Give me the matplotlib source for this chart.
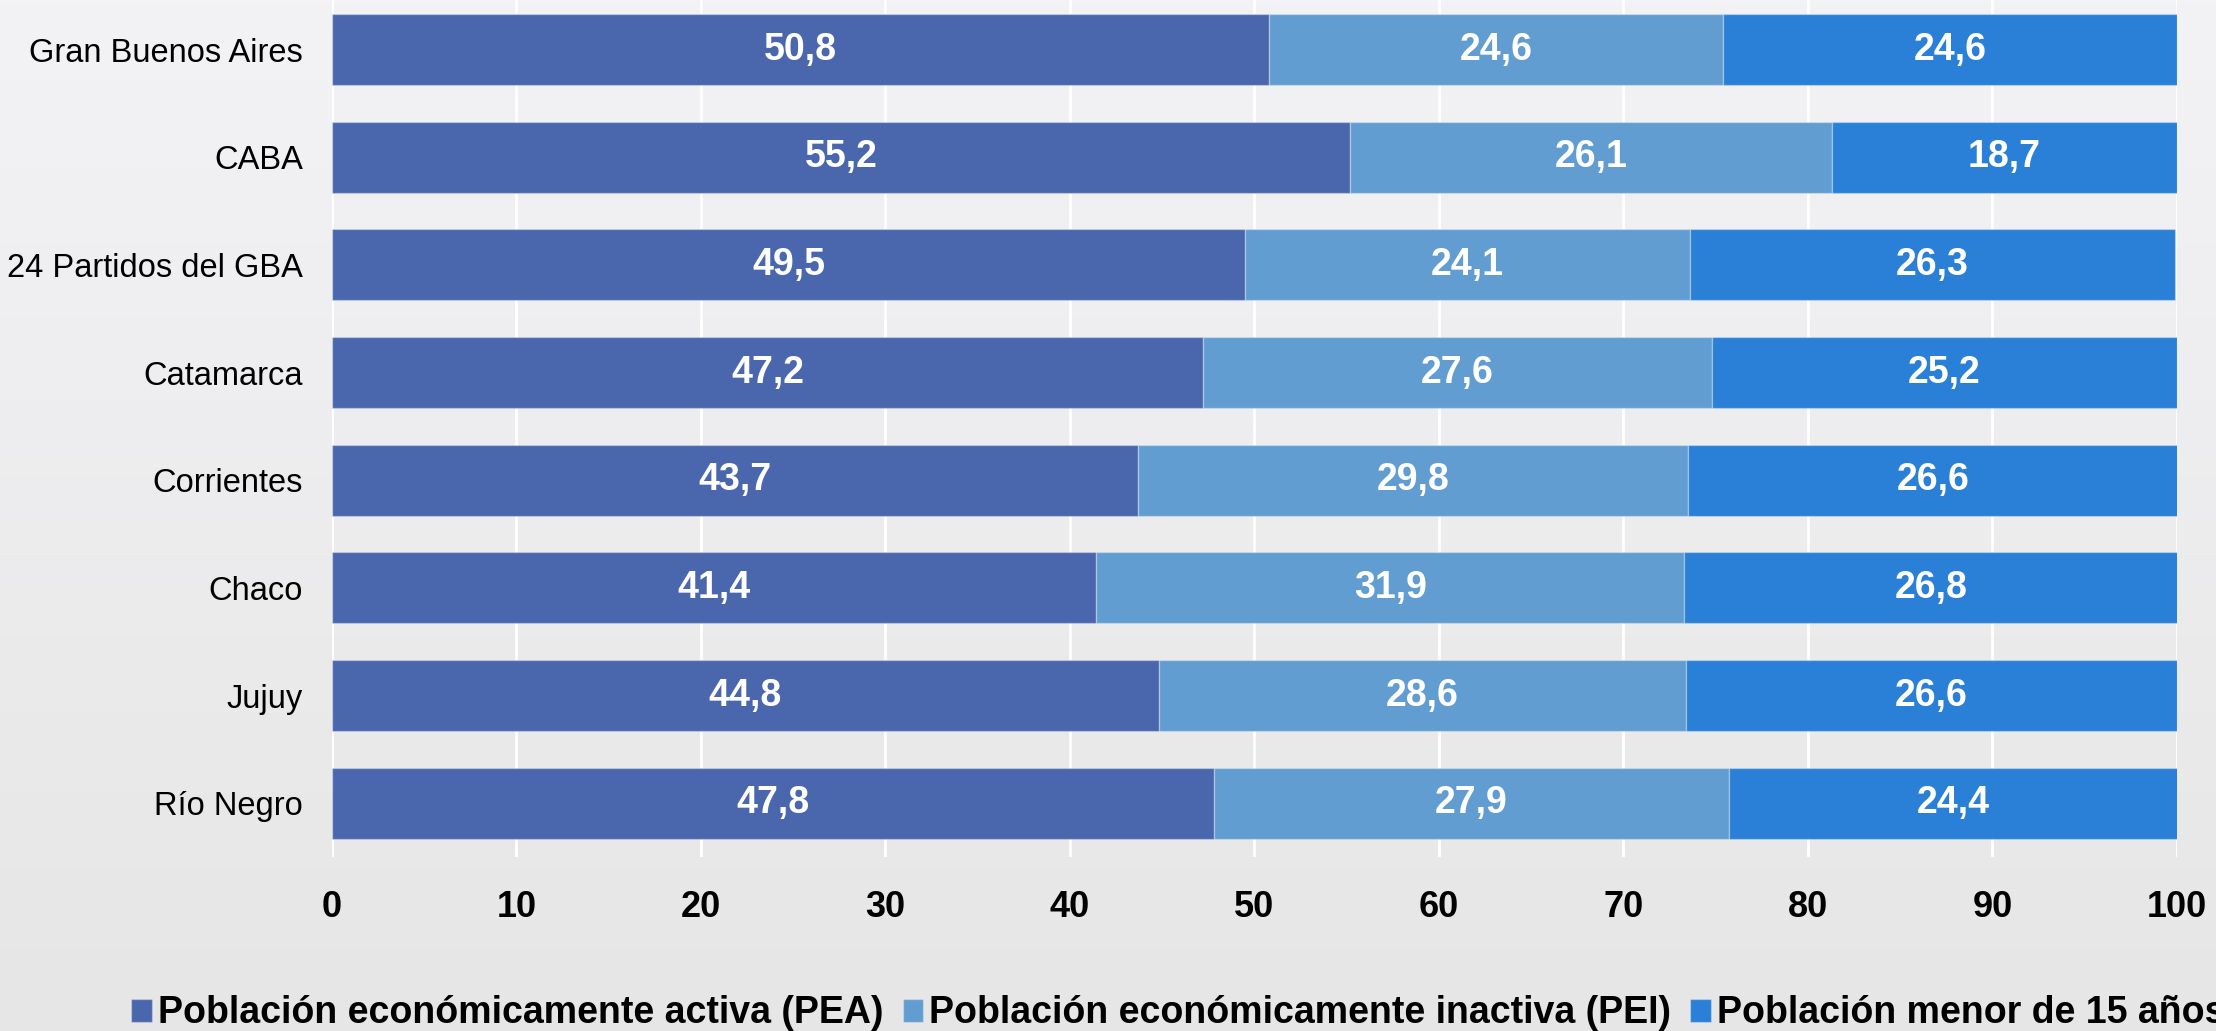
import numpy as np
import matplotlib
matplotlib.use("Agg")
import matplotlib.pyplot as plt

regions = ["Gran Buenos Aires", "CABA", "24 Partidos del GBA", "Catamarca",
           "Corrientes", "Chaco", "Jujuy", "Río Negro"]
pea = [50.8, 55.2, 49.5, 47.2, 43.7, 41.4, 44.8, 47.8]
pei = [24.6, 26.1, 24.1, 27.6, 29.8, 31.9, 28.6, 27.9]
menor15 = [24.6, 18.7, 26.3, 25.2, 26.6, 26.8, 26.6, 24.4]
series_names = ["Población económicamente activa (PEA)",
                "Población económicamente inactiva (PEI)",
                "Población menor de 15 años"]
colors = ["#4a67ad", "#629dd2", "#2a7fd6"]

plt.rcParams["font.family"] = ["Liberation Sans", "DejaVu Sans"]

fig = plt.figure(figsize=(22.16, 10.31), dpi=100)

# background gradient
bg = fig.add_axes([0, 0, 1, 1], zorder=-1)
grad = np.linspace(0, 1, 256).reshape(-1, 1)
top_c = np.array([0.953, 0.953, 0.965])
bot_c = np.array([0.902, 0.902, 0.902])
img = top_c + (bot_c - top_c) * grad[:, :, None]
bg.imshow(img, aspect="auto", extent=[0, 1, 0, 1])
bg.axis("off")

ax = fig.add_axes([0.1498, 0.1688, 0.8326, 0.8352])
ax.set_facecolor("none")

y = np.arange(len(regions))
left = np.zeros(len(regions))
for vals, c, name in zip([pea, pei, menor15], colors, series_names):
    bars = ax.barh(y, vals, left=left, height=0.66, color=c, label=name,
                   edgecolor=(1, 1, 1, 0.3), linewidth=1, zorder=2)
    for b, v in zip(bars, vals):
        ax.text(b.get_x() + b.get_width() / 2, b.get_y() + b.get_height() / 2,
                f"{v:.1f}".replace(".", ","), ha="center", va="center",
                color="white", fontsize=27, fontweight="bold", zorder=3)
    left += np.array(vals)

ax.set_xlim(0, 100)
ax.set_ylim(len(regions) - 0.5, -0.5)
ax.set_xticks(np.arange(0, 101, 10))
ax.set_yticks(y)
ax.set_yticklabels(regions, fontsize=23.5)
ax.tick_params(axis="y", length=0, pad=21)
ax.tick_params(axis="x", length=0, pad=24, labelsize=26)
for lab in ax.get_xticklabels():
    lab.set_fontweight("bold")
ax.grid(axis="x", color="white", linewidth=2, zorder=0)
ax.set_axisbelow(True)
for s in ax.spines.values():
    s.set_visible(False)

fig.legend(loc="center left", bbox_to_anchor=(0.044, 0.017), ncol=3,
           frameon=False, handlelength=0.55, handleheight=0.55,
           handletextpad=0.15, columnspacing=0.52,
           prop={"weight": "bold", "size": 27})

fig.savefig("out.png", dpi=100)
